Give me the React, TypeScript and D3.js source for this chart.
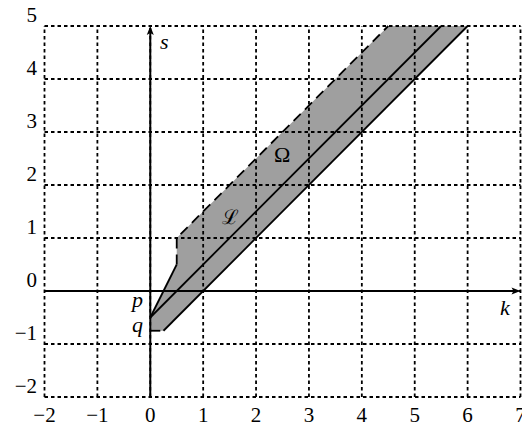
import React from 'react'
import * as d3 from 'd3'

// tick values on both axes
const kTicks = [-2, -1, 0, 1, 2, 3, 4, 5, 6, 7]
const sTicks = [-2, -1, 0, 1, 2, 3, 4, 5]

// region Omega, vertices (k, s)
const omegaK = [0, 0.25, 6, 4.5, 0.5, 0.5, 0]
const omegaS = [-0.75, -0.75, 5, 5, 1, 0.5, -0.5]

// solid boundary pieces
const lowerK = [0.25, 6]
const lowerS = [-0.75, 5]
const leftK = [0, 0.5]
const leftS = [-0.5, 0.5]
// dashed boundary pieces
const upperK = [0.5, 0.5, 4.5]
const upperS = [0.5, 1, 5]
const bottomK = [0, 0.25]
const bottomS = [-0.75, -0.75]
// line L
const lineLK = [0, 5.5]
const lineLS = [-0.5, 5]

const W = 522
const H = 427

export default function App() {
  const x = d3.scaleLinear().domain([-2, 7]).range([44.5, 520.5])
  const y = d3.scaleLinear().domain([-2, 5]).range([397, 26])

  const line = d3
    .line<[number, number]>()
    .x(d => x(d[0]))
    .y(d => y(d[1]))

  const pts = (ks: number[], ss: number[]) => ks.map((k, i) => [k, ss[i]] as [number, number])

  const serif = {fontFamily: "'Liberation Serif', 'Times New Roman', serif"}
  const x0 = x(0)
  const y0 = y(0)

  return (
    <div style={{position: 'absolute', left: 0, top: 0}}>
      <svg width={W} height={H} style={{display: 'block', background: '#fff'}}>
        {/* region */}
        <path d={line(pts(omegaK, omegaS)) + 'Z'} fill="#9f9f9f" stroke="none" />

        {/* grid */}
        <g stroke="#000" strokeWidth={1.8} strokeDasharray="3.5 3">
          {kTicks.map(t => (
            <line key={'gx' + t} x1={x(t)} x2={x(t)} y1={y(-2)} y2={y(5)} />
          ))}
          {sTicks.map(t => (
            <line key={'gy' + t} x1={x(-2)} x2={x(7)} y1={y(t)} y2={y(t)} />
          ))}
        </g>

        {/* boundaries */}
        <g fill="none" stroke="#000" strokeWidth={1.8}>
          <path d={line(pts(lowerK, lowerS)) || ''} />
          <path d={line(pts(leftK, leftS)) || ''} />
          <path d={line(pts(lineLK, lineLS)) || ''} />
          <path d={line(pts(upperK, upperS)) || ''} strokeDasharray="10 6" />
          <path d={line(pts(bottomK, bottomS)) || ''} strokeDasharray="10 6" />
        </g>

        {/* axes */}
        <g stroke="#000" strokeWidth={2}>
          <line x1={x(-2)} x2={x(7) - 2} y1={y0} y2={y0} />
          <line x1={x0} x2={x0} y1={y(-2)} y2={y(5) + 2} />
        </g>
        <path
          d={`M${x(7)},${y0} L${x(7) - 9},${y0 - 3.5} L${x(7) - 7},${y0} L${x(7) - 9},${y0 + 3.5} Z`}
          fill="#000"
        />
        <path
          d={`M${x0},${y(5)} L${x0 - 3.5},${y(5) + 9} L${x0},${y(5) + 7} L${x0 + 3.5},${y(5) + 9} Z`}
          fill="#000"
        />

        {/* tick labels */}
        <g style={serif} fontSize={21} fill="#000">
          {kTicks.map(t => (
            <text key={'kl' + t} x={x(t)} y={422} textAnchor="middle">
              {t < 0 ? '\u2212' + Math.abs(t) : t}
            </text>
          ))}
          {sTicks.map(t => (
            <text key={'sl' + t} x={37} y={y(t) - 4} textAnchor="end">
              {t < 0 ? '\u2212' + Math.abs(t) : t}
            </text>
          ))}
        </g>

        {/* annotations */}
        <g style={serif} fontSize={22} fill="#000">
          <text x={160} y={49} fontStyle="italic">s</text>
          <text x={500} y={315} fontStyle="italic">k</text>
          <text x={132} y={307} fontStyle="italic">p</text>
          <text x={132} y={332} fontStyle="italic">q</text>
          <text x={274} y={162}>Ω</text>
          <text x={222} y={224} style={{fontFamily: "'DejaVu Serif', serif"}} fontSize={20}>ℒ</text>
        </g>
      </svg>
    </div>
  )
}
